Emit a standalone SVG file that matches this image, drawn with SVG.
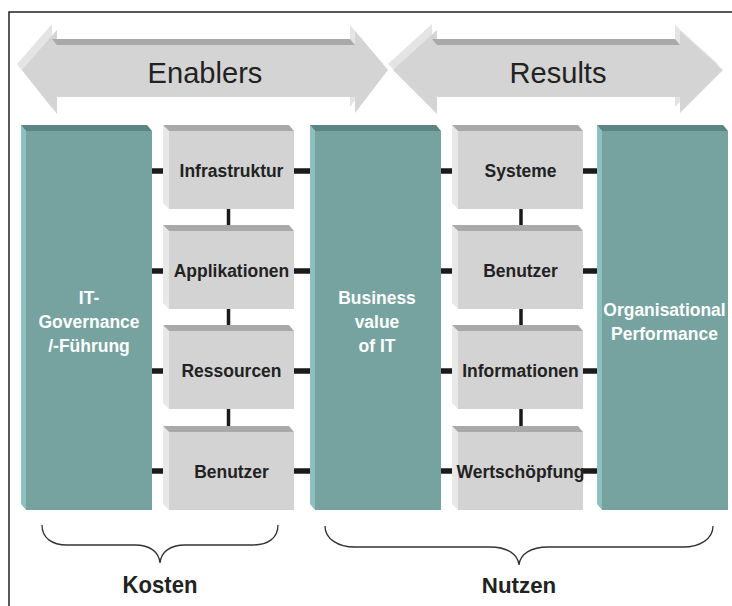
<svg xmlns="http://www.w3.org/2000/svg" width="732" height="606" viewBox="0 0 732 606">
<style>
.frame{fill:none;stroke:#222;stroke-width:1.5}
.arrBack{fill:#e4e4e4}
.arrFront{fill:#d4d4d4}
.arrTop{fill:#a9a9a9}
.arrTxt{font-family:"Liberation Sans",Arial,sans-serif;font-size:30px;fill:#222;text-anchor:middle}
.tFront{fill:#76a3a0}
.tTop{fill:#5b8582}
.tSide{fill:#8ec0bf}
.gFront{fill:#d3d3d3}
.gTop{fill:#a9a9a9}
.gSide{fill:#e8e8e8}
.lbl{font-family:"Liberation Sans",Arial,sans-serif;font-size:18.5px;font-weight:bold;fill:#222;text-anchor:middle}
.wlbl{font-family:"Liberation Sans",Arial,sans-serif;font-size:18.5px;font-weight:bold;fill:#fff;text-anchor:middle}
.conn{stroke:#1a1a1a;stroke-width:5.5;fill:none}
.vconn{stroke:#1a1a1a;stroke-width:3.5;fill:none}
.brace{fill:none;stroke:#333;stroke-width:1.3}
.big{font-family:"Liberation Sans",Arial,sans-serif;font-size:23px;font-weight:bold;fill:#222;text-anchor:middle}
</style>
<defs>
<g id="greyBox">
<polygon class="gSide" points="-6,-6 0,0 0,78 -6,72"/>
<polygon class="gTop" points="-6,-6 120,-6 125,0 0,0"/>
<rect class="gFront" x="0" y="0" width="125" height="78"/>
</g>
<g id="tealCol">
<polygon class="tSide" points="-5,-6 0,0 0,379 -5,373"/>
<polygon class="tTop" points="-5,-6 121,-6 126,0 0,0"/>
<rect class="tFront" x="0" y="0" width="126" height="379"/>
</g>
</defs>
<rect class="frame" x="9" y="12" width="740" height="620"/>

<g id="enablers">
<polygon class="arrBack" points="17,64 52,24 52,39 350,39 350,25 383,64 350,107 350,91 52,91 52,108"/>
<polygon class="arrFront" points="22,70 57,30 57,45 355,45 355,31 388,70 355,113 355,97 57,97 57,114"/>
<polygon class="arrTop" points="52,39 350,39 355,45 57,45"/>
<text class="arrTxt" transform="translate(205,83) scale(0.97,1)">Enablers</text>
</g>
<g id="results">
<polygon class="arrBack" points="388,64 432,24 432,39 675,39 675,25 718,64 675,107 675,91 432,91 432,108"/>
<polygon class="arrFront" points="393,70 437,30 437,45 680,45 680,31 723,70 680,113 680,97 437,97 437,114"/>
<polygon class="arrTop" points="432,39 675,39 680,45 437,45"/>
<text class="arrTxt" transform="translate(558,83) scale(0.97,1)">Results</text>
</g>

<g id="connectors">
<line class="conn" x1="152" y1="171" x2="164" y2="171"/>
<line class="conn" x1="152" y1="271" x2="164" y2="271"/>
<line class="conn" x1="152" y1="371" x2="164" y2="371"/>
<line class="conn" x1="152" y1="471" x2="164" y2="471"/>
<line class="conn" x1="294" y1="171" x2="310" y2="171"/>
<line class="conn" x1="294" y1="271" x2="310" y2="271"/>
<line class="conn" x1="294" y1="371" x2="310" y2="371"/>
<line class="conn" x1="294" y1="471" x2="310" y2="471"/>
<line class="conn" x1="439" y1="171" x2="453" y2="171"/>
<line class="conn" x1="439" y1="271" x2="453" y2="271"/>
<line class="conn" x1="439" y1="371" x2="453" y2="371"/>
<line class="conn" x1="439" y1="471" x2="453" y2="471"/>
<line class="conn" x1="583" y1="171" x2="598" y2="171"/>
<line class="conn" x1="583" y1="271" x2="598" y2="271"/>
<line class="conn" x1="583" y1="371" x2="598" y2="371"/>
<line class="conn" x1="583" y1="471" x2="598" y2="471"/>
<line class="vconn" x1="228.5" y1="209" x2="228.5" y2="226"/>
<line class="vconn" x1="228.5" y1="309" x2="228.5" y2="326"/>
<line class="vconn" x1="228.5" y1="409" x2="228.5" y2="426"/>
<line class="vconn" x1="521" y1="209" x2="521" y2="226"/>
<line class="vconn" x1="521" y1="309" x2="521" y2="326"/>
<line class="vconn" x1="521" y1="409" x2="521" y2="426"/>
</g>

<g id="col-governance">
<use href="#tealCol" x="26" y="131"/>
<text class="wlbl" transform="translate(89,304) scale(0.945,1)">IT-</text>
<text class="wlbl" transform="translate(89,328) scale(0.945,1)">Governance</text>
<text class="wlbl" transform="translate(89,352) scale(0.945,1)">/-Führung</text>
</g>
<g id="col-business">
<use href="#tealCol" x="315" y="131"/>
<text class="wlbl" transform="translate(377,304) scale(0.945,1)">Business</text>
<text class="wlbl" transform="translate(377,328) scale(0.945,1)">value</text>
<text class="wlbl" transform="translate(377,352) scale(0.945,1)">of IT</text>
</g>
<g id="col-performance">
<use href="#tealCol" x="602" y="131"/>
<text class="wlbl" transform="translate(664.5,316) scale(0.945,1)">Organisational</text>
<text class="wlbl" transform="translate(664.5,340) scale(0.945,1)">Performance</text>
</g>

<g id="box-infrastruktur"><use href="#greyBox" x="169" y="131"/><text class="lbl" transform="translate(231.5,177) scale(0.945,1)">Infrastruktur</text></g>
<g id="box-applikationen"><use href="#greyBox" x="169" y="231"/><text class="lbl" transform="translate(231.5,277) scale(0.945,1)">Applikationen</text></g>
<g id="box-ressourcen"><use href="#greyBox" x="169" y="331"/><text class="lbl" transform="translate(231.5,377) scale(0.945,1)">Ressourcen</text></g>
<g id="box-benutzer1"><use href="#greyBox" x="169" y="432"/><text class="lbl" transform="translate(231.5,478) scale(0.945,1)">Benutzer</text></g>

<g id="box-systeme"><use href="#greyBox" x="458" y="131"/><text class="lbl" transform="translate(520.5,177) scale(0.945,1)">Systeme</text></g>
<g id="box-benutzer2"><use href="#greyBox" x="458" y="231"/><text class="lbl" transform="translate(520.5,277) scale(0.945,1)">Benutzer</text></g>
<g id="box-informationen"><use href="#greyBox" x="458" y="331"/><text class="lbl" transform="translate(520.5,377) scale(0.945,1)">Informationen</text></g>
<g id="box-wertschoepfung"><use href="#greyBox" x="458" y="432"/><text class="lbl" transform="translate(520.5,478) scale(0.945,1)">Wertschöpfung</text></g>

<g id="kosten">
<path class="brace" d="M42,525 C42,538 52,545 67,545 L135,545 C150,545 159,552 160,563 C161,552 170,545 185,545 L253,545 C268,545 278,538 278,525"/>
<text class="big" transform="translate(160,593) scale(0.96,1)">Kosten</text>
</g>
<g id="nutzen">
<path class="brace" d="M325,526 C325,539 338,547 355,547 L490,547 C507,547 518,554 519,565 C520,554 531,547 548,547 L683,547 C700,547 713,539 713,526"/>
<text class="big" transform="translate(519,593) scale(0.97,1)">Nutzen</text>
</g>
</svg>
